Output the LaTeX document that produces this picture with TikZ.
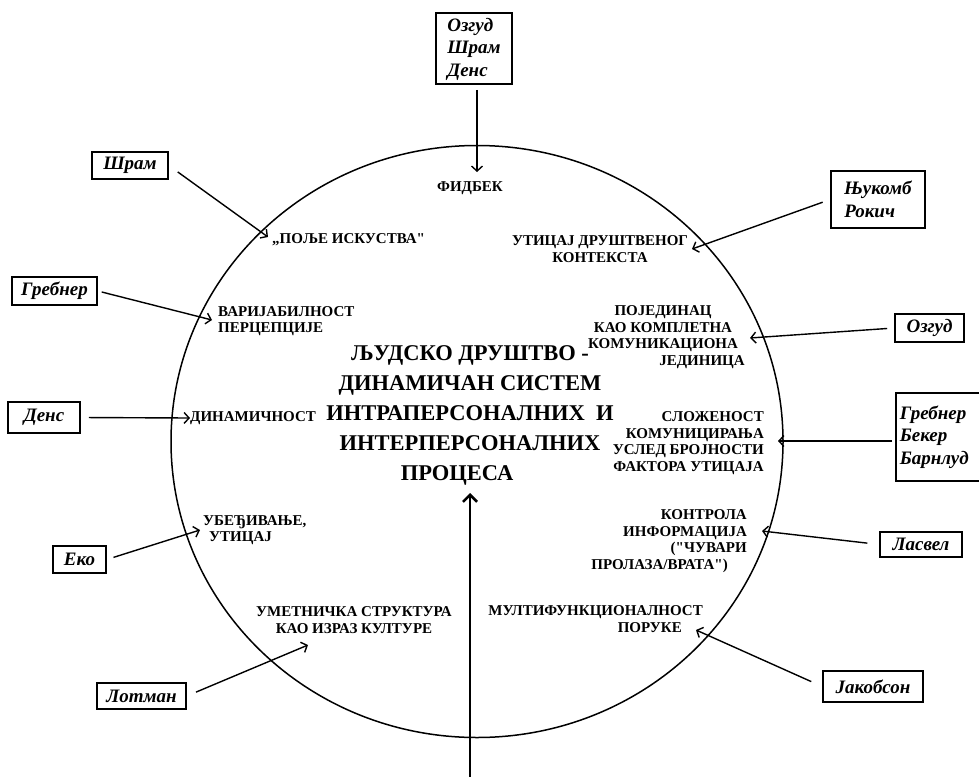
\documentclass[tikz,border=0pt]{standalone}
\usepackage{fontspec}
\setmainfont{Liberation Serif}
\usetikzlibrary{arrows.meta,shapes.geometric}
\begin{document}
\begin{tikzpicture}[x=1pt,y=-1pt,
  lbl/.style={font=\bfseries\fontsize{15}{16.6}\selectfont, inner sep=0pt},
  big/.style={font=\bfseries\fontsize{22.5}{30}\selectfont, inner sep=0pt, align=center},
  nm/.style={draw, line width=1.6pt, font=\bfseries\itshape\fontsize{19}{22.5}\selectfont, inner sep=0pt},
  arr/.style={line width=1.4pt, -{Straight Barb[length=5pt,width=11pt]}},
  bigarr/.style={line width=2.6pt, -{Straight Barb[length=7pt,width=14pt]}}]
\useasboundingbox (0,0) rectangle (979,776);
\fill[white] (0,0) rectangle (979,776);
% circle
\node[draw, ellipse, line width=1.5pt, minimum width=612pt, minimum height=592pt, inner sep=0pt] (circ) at (477,441.5) {};
% author boxes
\node[nm, minimum width=76pt, minimum height=71pt, align=left, text depth=3pt] (topbox) at (474,48.5) {Озгуд\\Шрам\\Денс};
\node[nm, minimum width=76pt, minimum height=27pt] (shram) at (130,165.5) {Шрам};
\node[nm, minimum width=85pt, minimum height=28pt] (grebner) at (54.5,291) {Гребнер};
\node[nm, minimum width=94pt, minimum height=57pt, align=left] (njukomb) at (878,199.5) {Њукомб\\Рокич};
\node[nm, minimum width=69pt, minimum height=28pt] (ozgud) at (929.5,328) {Озгуд};
\node[nm, minimum width=72pt, minimum height=31pt] (dens) at (44,417.5) {Денс};
\node[nm, anchor=north west, text width=85pt, inner xsep=4pt, minimum height=88pt, align=left] (rbox) at (895,392) {Гребнер\\Бекер\\Барнлуд};
\node[nm, minimum width=53pt, minimum height=27pt] (eko) at (79.5,559.5) {Еко};
\node[nm, minimum width=82pt, minimum height=25pt] (lasvel) at (921,544.5) {Ласвел};
\node[nm, minimum width=89pt, minimum height=26pt] (lotman) at (141.5,696) {Лотман};
\node[nm, minimum width=100pt, minimum height=31pt] (jakobson) at (873,686.5) {Јакобсон};
% labels inside circle
\node[lbl] (fidbek) at (470,188) {ФИДБЕК};
\node[lbl, anchor=west] (polje) at (272,240) {„ПОЉЕ ИСКУСТВА\textquotedbl};
\node[lbl, anchor=west, align=left] (varij) at (218,321) {ВАРИЈАБИЛНОСТ\\ПЕРЦЕПЦИЈЕ};
\node[lbl, align=center] (utic) at (600,249) {УТИЦАЈ ДРУШТВЕНОГ\\КОНТЕКСТА};
\node[lbl, align=center] (pojed) at (663,337) {ПОЈЕДИНАЦ\\КАО КОМПЛЕТНА\\КОМУНИКАЦИОНА\\\hspace*{78pt}ЈЕДИНИЦА};
\node[lbl, anchor=west] (dinam) at (190,418) {ДИНАМИЧНОСТ};
\node[lbl, anchor=east, align=right] (slozh) at (764,443) {СЛОЖЕНОСТ\\КОМУНИЦИРАЊА\\УСЛЕД БРОЈНОСТИ\\ФАКТОРА УТИЦАЈА};
\node[lbl, anchor=west, align=left] (ubedj) at (203,530) {УБЕЂИВАЊЕ,\\\hspace*{6pt}УТИЦАЈ};
\node[lbl, anchor=east, align=right] (kontr) at (747,541) {КОНТРОЛА\\ИНФОРМАЦИЈА\\(\textquotedbl ЧУВАРИ\hspace*{13pt}\\ПРОЛАЗА/ВРАТА\textquotedbl)\hspace*{19pt}};
\node[lbl, align=center] (umet) at (354,620) {УМЕТНИЧКА СТРУКТУРА\\КАО ИЗРАЗ КУЛТУРЕ};
\node[lbl, anchor=east, align=right] (multi) at (703,619) {МУЛТИФУНКЦИОНАЛНОСТ\\ПОРУКЕ\hspace*{21pt}};
\node[big] (center) at (470,415) {ЉУДСКО ДРУШТВО -\\ДИНАМИЧАН СИСТЕМ\\ИНТРАПЕРСОНАЛНИХ\ \ И\\ИНТЕРПЕРСОНАЛНИХ\\ПРОЦЕСА\hspace*{26pt}};
% arrow tips
\coordinate (t1) at (477,172);
\coordinate (t2) at (268,237);
\coordinate (t3) at (212,320);
\coordinate (t4) at (692,249);
\coordinate (t5) at (750,338);
\coordinate (t6) at (190,418);
\coordinate (t7) at (778,441);
\coordinate (t8) at (200,530);
\coordinate (t9) at (762,531);
\coordinate (t10) at (696,630);
\coordinate (t11) at (308,645);
\coordinate (bot) at (470,790);
\coordinate (btip) at (470,493);
% connectors
\draw[arr, shorten <=5pt] (topbox.south -| t1) -- (t1);
\draw[arr, shorten <=11pt] (shram.east) -- (t2);
\draw[arr, shorten <=4pt] (grebner.east) -- (t3);
\draw[arr, shorten <=8pt] (njukomb.west) -- (t4);
\draw[arr, shorten <=7pt] (ozgud.west) -- (t5);
\draw[arr, shorten <=8pt] (dens.east) -- (t6);
\draw[arr, shorten <=3pt] (rbox.west |- t7) -- (t7);
\draw[arr, shorten <=7pt] (eko.east) -- (t8);
\draw[arr, shorten <=12pt] (lasvel.west) -- (t9);
\draw[arr, shorten <=12pt] (jakobson.west) -- (t10);
\draw[arr, shorten <=10pt] (lotman.east) -- (t11);
\draw[bigarr] (bot) -- (btip);
\end{tikzpicture}
\end{document}
